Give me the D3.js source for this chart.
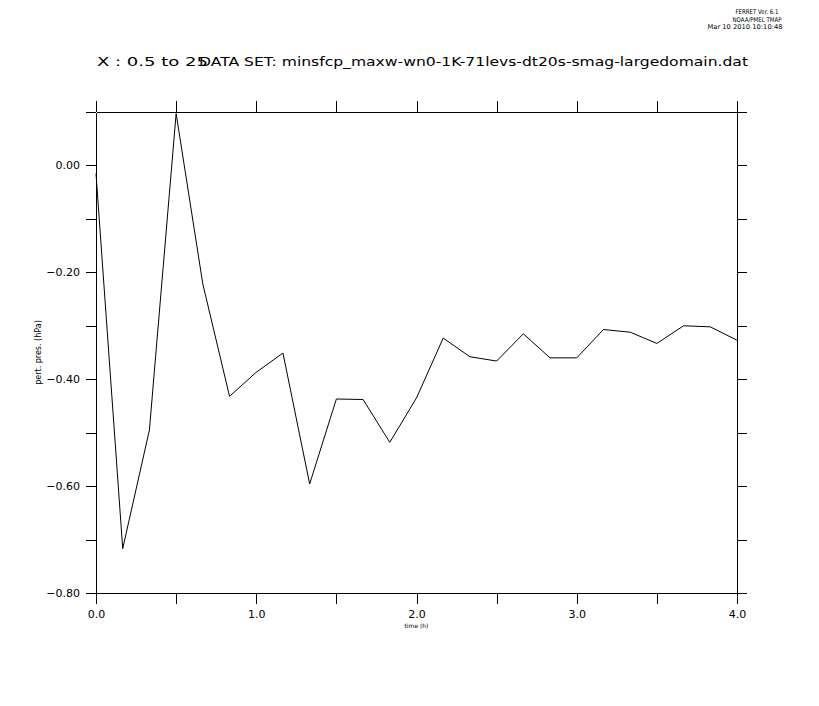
<!DOCTYPE html>
<html>
<head>
<meta charset="utf-8">
<script src="https://cdn.jsdelivr.net/npm/d3@7"></script>
<style>
  html, body { margin: 0; padding: 0; background: #fff; }
  svg { display: block; }
  text { font-family: "DejaVu Sans", sans-serif; fill: #000; }
</style>
</head>
<body>
<svg id="chart" width="819" height="706"></svg>
<script>
// ---- data ----
const timeHours = [0, 0.1667, 0.3333, 0.5, 0.6667, 0.8333, 1.0, 1.1667, 1.3333, 1.5, 1.6667, 1.8333,
                   2.0, 2.1667, 2.3333, 2.5, 2.6667, 2.8333, 3.0, 3.1667, 3.3333, 3.5, 3.6667, 3.8333, 4.0];
const pertPres = [-0.015, -0.717, -0.495, 0.097, -0.222, -0.432, -0.387, -0.351, -0.596, -0.437, -0.438, -0.518,
                  -0.435, -0.323, -0.358, -0.366, -0.315, -0.360, -0.360, -0.307, -0.312, -0.333, -0.300, -0.302, -0.327];
const xTicks = [0, 0.5, 1, 1.5, 2, 2.5, 3, 3.5, 4];
const xTickLabels = ["0.0", "", "1.0", "", "2.0", "", "3.0", "", "4.0"];
const yTicks = [0.1, 0, -0.1, -0.2, -0.3, -0.4, -0.5, -0.6, -0.7, -0.8];
const yTickLabels = ["", "0.00", "", "\u22120.20", "", "\u22120.40", "", "\u22120.60", "", "\u22120.80"];
const titleLeft = "X : 0.5 to 25";
const titleMain = "DATA SET: minsfcp_maxw-wn0-1K-71levs-dt20s-smag-largedomain.dat";
const xLabel = "time (h)";
const yLabel = "pert. pres. (hPa)";
const stamp = ["FERRET Ver. 6.1", "NOAA/PMEL TMAP", "Mar 10 2010 10:10:48"];

// ---- layout ----
const svg = d3.select("#chart");
const L = 96, R = 737, T = 112, B = 593;
const x = d3.scaleLinear().domain([0, 4]).range([L, R]);
const y = d3.scaleLinear().domain([-0.8, 0.1]).range([B, T]);

const crisp = g => g.attr("shape-rendering", "crispEdges");

const gB = svg.append("g").attr("transform", `translate(0,${B})`)
  .call(d3.axisBottom(x).tickValues(xTicks).tickSize(11).tickSizeOuter(0)
        .tickFormat((d, i) => xTickLabels[i]));
const gT = svg.append("g").attr("transform", `translate(0,${T})`)
  .call(d3.axisTop(x).tickValues(xTicks).tickSize(11).tickSizeOuter(0).tickFormat(""));
const gL = svg.append("g").attr("transform", `translate(${L},0)`)
  .call(d3.axisLeft(y).tickValues(yTicks).tickSize(10).tickSizeOuter(0)
        .tickFormat((d, i) => yTickLabels[i]));
const gR = svg.append("g").attr("transform", `translate(${R},0)`)
  .call(d3.axisRight(y).tickValues(yTicks).tickSize(10).tickSizeOuter(0).tickFormat(""));

[gB, gT, gL, gR].forEach(g => {
  g.call(crisp);
  g.selectAll("path.domain").attr("stroke", "#000").attr("stroke-width", 1);
  g.selectAll(".tick line").attr("stroke", "#000").attr("stroke-width", 1);
  g.selectAll(".tick text").attr("font-family", "DejaVu Sans, sans-serif").attr("fill", "#000");
});
gB.selectAll(".tick text").attr("font-size", 11).attr("dy", "0.71em").attr("y", 17);
gL.selectAll(".tick text").attr("font-size", 11).attr("x", -16);

const line = d3.line().x((d, i) => x(timeHours[i])).y(d => y(d));
svg.append("path")
  .datum(pertPres)
  .attr("d", line)
  .attr("fill", "none")
  .attr("stroke", "#000")
  .attr("stroke-width", 1);

svg.append("text").attr("x", x(2)).attr("y", 628).attr("text-anchor", "middle")
  .attr("font-size", 6).text(xLabel);
svg.append("text").attr("transform", `translate(41,${(T + B) / 2}) rotate(-90)`)
  .attr("text-anchor", "middle").attr("font-size", 8).text(yLabel);

svg.append("text").attr("x", 97).attr("y", 66).attr("font-size", 12.5)
  .attr("textLength", 111).attr("lengthAdjust", "spacingAndGlyphs").text(titleLeft);
svg.append("text").attr("x", 199).attr("y", 66).attr("font-size", 12.5)
  .attr("textLength", 549).attr("lengthAdjust", "spacingAndGlyphs").text(titleMain);

const stampX = [757, 757, 745];
const stampW = [43, 49, 75];
stamp.forEach((s, i) => {
  svg.append("text").attr("x", stampX[i] - stampW[i] / 2).attr("y", 14 + i * 7.5)
    .attr("font-size", 6.5).attr("textLength", stampW[i]).attr("lengthAdjust", "spacingAndGlyphs").text(s);
});
</script>
</body>
</html>
